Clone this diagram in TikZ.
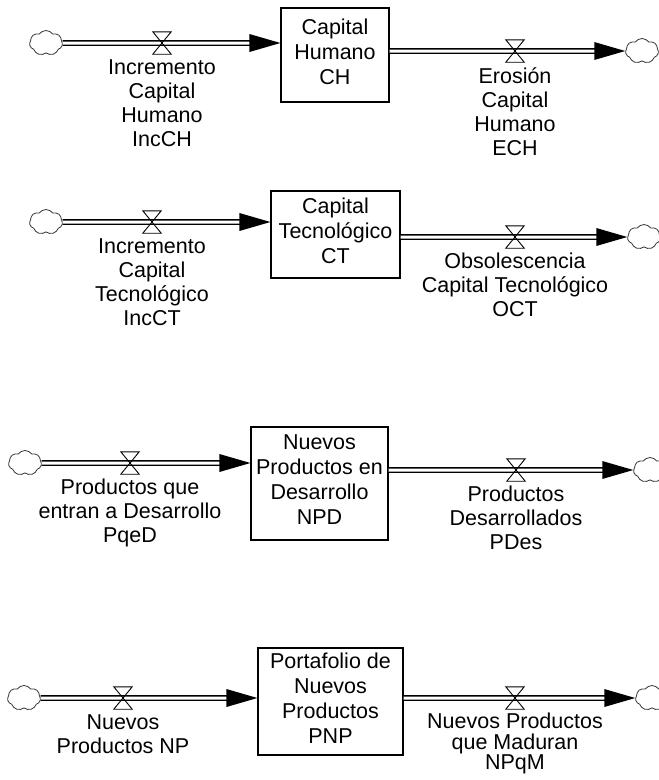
\documentclass[tikz,border=0pt]{standalone}
\usepackage{fontspec}
\setmainfont{Liberation Sans}
\usetikzlibrary{shapes.symbols,calc}

% text set in the stocks and under the flows
\newcommand\sdfont{\fontsize{21.5}{24}\selectfont}
\newcommand\stockfont{\fontsize{21.5}{25}\selectfont}

\tikzset{
  stock/.style={draw, line width=1.2pt, inner sep=0pt, align=center, font=\stockfont,
    execute at begin node=\rule{0pt}{22pt}, execute at end node=\strut},
  source/.style={cloud, cloud puffs=7, cloud puff arc=110, cloud ignores aspect,
    draw=black!80, line width=0.8pt, minimum width=33pt, minimum height=25pt, inner sep=0pt},
  pipe/.style={double=white, draw=black, line width=1.4pt, double distance=3pt},
  valvebox/.style={inner sep=0pt, minimum width=18pt, minimum height=22pt},
  valveline/.style={draw, line width=0.9pt, line join=miter},
  lbl/.style={inner sep=0pt, align=center, font=\sdfont, anchor=north,
    execute at begin node=\strut},
}

% pipe from a cloud into a stock, arrow tip on the stock's edge
\newcommand\pipeIn[2]{%
  \draw[pipe] (#1.east) -- ($(#1 -| #2.west)+(-29,0)$);
  \fill ($(#1 -| #2.west)+(-31,9)$) -- (#1 -| #2.west) -- ($(#1 -| #2.west)+(-31,-9)$) -- cycle;
}
% pipe from a stock out to a cloud
\newcommand\pipeOut[2]{%
  \draw[pipe] (#1.east |- #2) -- ($(#2.west)+(-29,0)$);
  \fill ($(#2.west)+(-31,9)$) -- (#2.west) -- ($(#2.west)+(-31,-9)$) -- cycle;
}
% hourglass valve drawn on a valve node
\newcommand\valveAt[1]{%
  \draw[valveline] (#1.north west) -- (#1.north east) -- (#1.south west) -- (#1.south east) -- cycle;
}

\begin{document}
\begin{tikzpicture}[x=1pt, y=-1pt]
  \useasboundingbox (0,0) rectangle (659,780);

  % stocks
  \node[stock, minimum width=108pt, minimum height=94pt] (CH) at (335,55) {Capital\\Humano\\CH};
  \node[stock, minimum width=129pt, minimum height=87pt] (CT) at (335.5,234.5) {Capital\\Tecnológico\\CT};
  \node[stock, minimum width=137pt, minimum height=113pt] (NPD) at (319.5,483.5) {Nuevos\\Productos en\\Desarrollo\\NPD};
  \node[stock, minimum width=145pt, minimum height=107pt] (PNP) at (330.5,701.5) {Portafolio de\\Nuevos\\Productos\\PNP};

  % sources and sinks
  \node[source] (c1) at (46,43) {};
  \node[source] (c2) at (642,51) {};
  \node[source] (c3) at (46,222) {};
  \node[source] (c4) at (644,237) {};
  \node[source] (c5) at (25,463) {};
  \node[source] (c6) at (650,470) {};
  \node[source] (c7) at (24,698) {};
  \node[source] (c8) at (652,698) {};

  % flow pipes
  \pipeIn{c1}{CH}
  \pipeOut{CH}{c2}
  \pipeIn{c3}{CT}
  \pipeOut{CT}{c4}
  \pipeIn{c5}{NPD}
  \pipeOut{NPD}{c6}
  \pipeIn{c7}{PNP}
  \pipeOut{PNP}{c8}

  % valves
  \node[valvebox] (v1) at (162,43) {};
  \node[valvebox] (v2) at (515,51) {};
  \node[valvebox] (v3) at (152,222) {};
  \node[valvebox] (v4) at (515,237) {};
  \node[valvebox] (v5) at (130,463) {};
  \node[valvebox] (v6) at (516,470) {};
  \node[valvebox] (v7) at (123,698) {};
  \node[valvebox] (v8) at (515,698) {};
  \foreach \v in {v1,v2,v3,v4,v5,v6,v7,v8} {\valveAt{\v}}

  % flow names
  \node[lbl] (l1) at ($(v1.south)+(0,5)$) {Incremento\\Capital\\Humano\\IncCH};
  \node[lbl] (l2) at ($(v2.south)+(0,5)$) {Erosión\\Capital\\Humano\\ECH};
  \node[lbl] (l3) at ($(v3.south)+(0,5)$) {Incremento\\Capital\\Tecnológico\\IncCT};
  \node[lbl] (l4) at ($(v4.south)+(0,5)$) {Obsolescencia\\Capital Tecnológico\\OCT};
  \node[lbl] (l5) at ($(v5.south)+(0,5)$) {Productos que\\entran a Desarrollo\\PqeD};
  \node[lbl] (l6) at ($(v6.south)+(0,5)$) {Productos\\Desarrollados\\PDes};
  \node[lbl] (l7) at ($(v7.south)+(0,5)$) {Nuevos\\Productos NP};
  \node[lbl] (l8) at ($(v8.south)+(0,4)$) {Nuevos Productos\\[-3.5pt]que Maduran\\[-3.5pt]NPqM};
\end{tikzpicture}
\end{document}
